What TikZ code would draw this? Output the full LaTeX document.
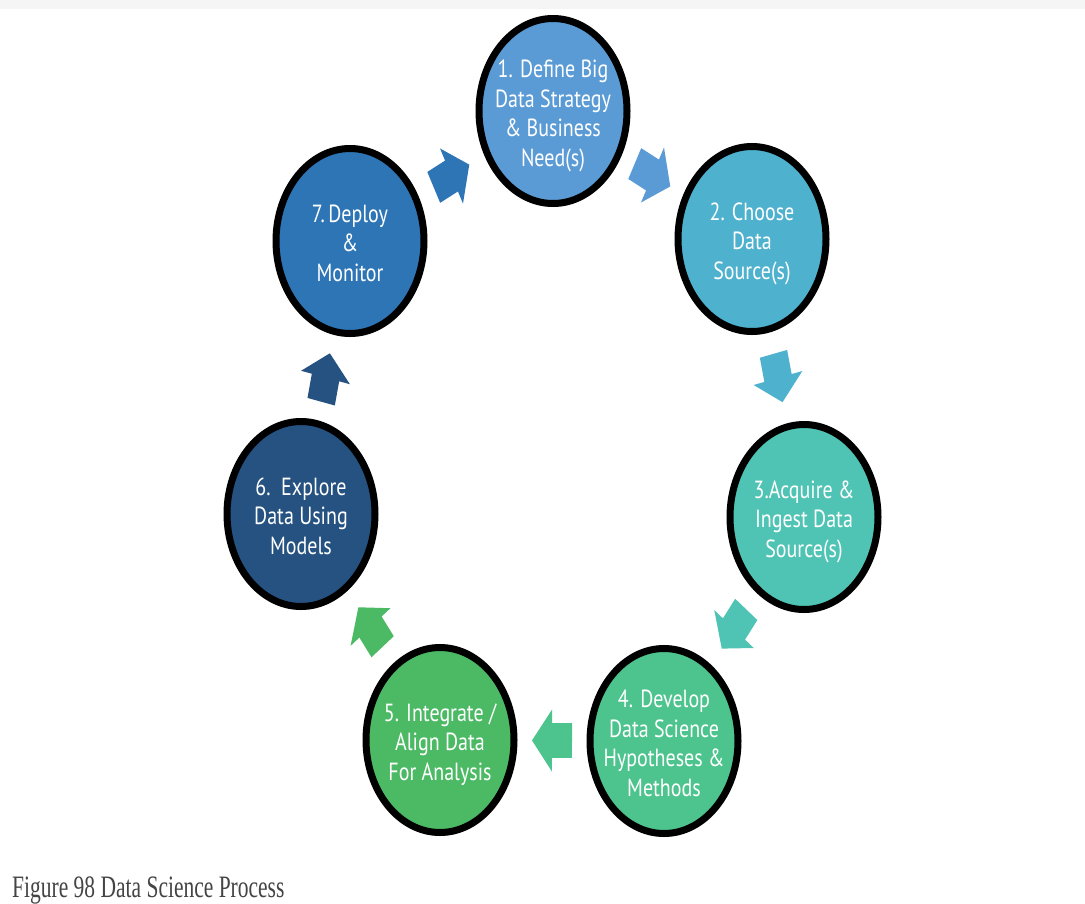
\documentclass[tikz,border=0pt]{standalone}
\usepackage{fontspec}
\usepackage{graphicx}
\setmainfont{PT Sans}
\newfontfamily\capfont{Liberation Serif}
\usetikzlibrary{shapes.geometric,calc}
\definecolor{fone}{RGB}{91,155,213}
\definecolor{ftwo}{RGB}{78,177,206}
\definecolor{fthree}{RGB}{80,196,180}
\definecolor{ffour}{RGB}{77,196,142}
\definecolor{ffive}{RGB}{76,186,100}
\definecolor{fsix}{RGB}{37,82,128}
\definecolor{fseven}{RGB}{46,117,182}
\definecolor{capgray}{RGB}{68,68,68}
\definecolor{topband}{RGB}{245,245,245}
\newcommand\vtxt[1]{\scalebox{1}[1.24]{\fontsize{20}{24}\selectfont\begin{tabular}{@{}c@{}}#1\end{tabular}}}
\tikzset{
  stage/.style={ellipse, draw=black, line width=7pt, minimum width=148pt,
    minimum height=185pt, inner sep=0pt, fill=#1},
  stagetext/.style={text=white, inner sep=0pt, yshift=-5pt},
  blockarr/.pic={\fill[#1] (-20,14) -- (0,14) -- (0,25) -- (20,0) -- (0,-25) -- (0,-14) -- (-20,-14) -- cycle;}
}
\begin{document}
\begin{tikzpicture}[x=1pt,y=-1pt]
\useasboundingbox (0,0) rectangle (1085,903);
\fill[white] (0,0) rectangle (1085,903);
\fill[topband] (0,0) rectangle (1085,9);

\node[stage=fone, label={[stagetext]center:{\vtxt{1. Define Big\\Data Strategy\\\& Business\\Need(s)}}}] (c1) at (553,111) {};
\node[stage=ftwo, label={[stagetext]center:{\vtxt{2. Choose\\Data\\Source(s)}}}] (c2) at (752,239) {};
\node[stage=fthree, label={[stagetext]center:{\vtxt{3.Acquire \&\\Ingest Data\\Source(s)}}}] (c3) at (804,517) {};
\node[stage=ffour, label={[stagetext]center:{\vtxt{4. Develop\\Data Science\\Hypotheses \&\\Methods}}}] (c4) at (664,741) {};
\node[stage=ffive, label={[stagetext]center:{\vtxt{5. Integrate /\\Align Data\\For Analysis}}}] (c5) at (440,740) {};
\node[stage=fsix, label={[stagetext]center:{\vtxt{6.~~Explore\\Data Using\\Models}}}] (c6) at (301,514) {};
\node[stage=fseven, label={[stagetext]center:{\vtxt{7.\,Deploy\\\&\\Monitor}}}] (c7) at (350,241) {};

\foreach \a/\b/\col in {c1/c2/fone, c2/c3/ftwo, c3/c4/fthree, c4/c5/ffour, c5/c6/ffive, c6/c7/fsix, c7/c1/fseven}{
  \path let \p1=($(\b.center)-(\a.center)$), \n1={atan2(\y1/1.24,\x1)} in
    ($(\a.center)!0.5!(\b.center)$) pic[yscale=1.24, rotate=\n1] {blockarr=\col};
}

\node[anchor=base west, inner sep=0pt, text=capgray] (cap) at (12,897)
  {\scalebox{1}[1.45]{\capfont\fontsize{21.5}{24}\selectfont Figure 98 Data Science Process}};
\end{tikzpicture}
\end{document}
